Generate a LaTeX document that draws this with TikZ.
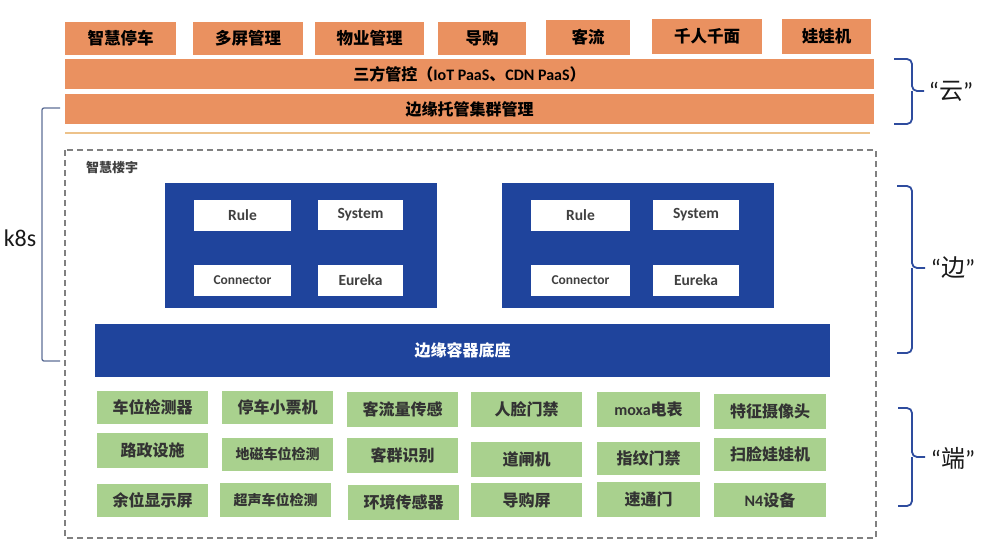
\documentclass[tikz,border=0pt]{standalone}
\usepackage{fontspec}
\setmainfont{Carlito}
\newfontfamily\cjk{Noto Sans CJK SC}
\definecolor{orng}{HTML}{EA9160}
\definecolor{blu}{HTML}{1F449C}
\definecolor{grn}{HTML}{A9D18E}
\definecolor{tan}{HTML}{EDC28A}
\definecolor{brc}{HTML}{2E4C9E}
\definecolor{k8c}{HTML}{5E6F96}
\newcommand\bx[7]{\node[#1,minimum width={#4-#2},minimum height={#5-#3}] (#6) at ({(#2+#4)/2},{(#3+#5)/2}) {#7};}
\newcommand\lat[1]{{\normalfont\bfseries #1}}
\begin{document}
\begin{tikzpicture}[x=1pt,y=-1pt,
  base/.style={inner sep=0pt,outer sep=0pt,draw=none,anchor=center},
  obox/.style={base,fill=orng,text=black,font=\cjk\bfseries\fontsize{16.5}{18}\selectfont},
  obar/.style={base,fill=orng,text=black,font=\cjk\bfseries\fontsize{16}{18}\selectfont},
  bbox/.style={base,fill=blu},
  bbar/.style={base,fill=blu,text=white,font=\cjk\bfseries\fontsize{16}{18}\selectfont},
  wbox/.style={base,fill=white,text=black!75,font=\bfseries\fontsize{15.5}{18}\selectfont},
  wsmall/.style={wbox,font=\bfseries\fontsize{13.5}{16}\selectfont},
  gbox/.style={base,fill=grn,text=black!80,font=\cjk\bfseries\fontsize{16}{18}\selectfont},
  gsmall/.style={gbox,font=\cjk\bfseries\fontsize{14}{16}\selectfont},
  brace/.style={draw=brc,line width=1.8pt,rounded corners=5pt},
  biglabel/.style={inner sep=0pt,text=black!90,font=\fontsize{24}{28}\selectfont},
]
\useasboundingbox (0,0) rectangle (1006,551);
% top row
\bx{obox}{65}{22}{176}{55}{t1}{智慧停车}
\bx{obox}{193}{22}{303}{55}{t2}{多屏管理}
\bx{obox}{315}{22}{424}{55}{t3}{物业管理}
\bx{obox}{438}{22}{526}{55}{t4}{导购}
\bx{obox}{546}{20}{630}{55}{t5}{客流}
\bx{obox}{652}{19}{762}{54}{t6}{千人千面}
\bx{obox}{782}{19}{871}{54}{t7}{娃娃机}
\bx{obar}{65}{59}{874}{89}{bar1}{三方管控（\lat{IoT PaaS}、\lat{CDN PaaS}）}
\bx{obar}{65}{94}{874}{124}{bar2}{边缘托管集群管理}
\coordinate (la) at (65,133);
\coordinate (lb) at (870,133);
\draw[tan,line width=2pt] (la) -- (lb);
% dashed frame
\draw[black!50,line width=1.4pt,dash pattern=on 6pt off 4pt] (65,150) rectangle (876,538);
\node[anchor=west,inner sep=0pt,text=black!75,font=\cjk\bfseries\fontsize{13}{15}\selectfont] (zh) at (86,168) {智慧楼宇};
% blue modules
\bx{bbox}{165}{183}{437}{308}{bl}{}
\bx{wbox}{194}{200}{291}{231}{r1}{Rule}
\bx{wbox}{318}{200}{403}{230}{s1}{System}
\bx{wsmall}{194}{265}{291}{296}{c1}{Connector}
\bx{wbox}{318}{265}{403}{296}{e1}{Eureka}
\bx{bbox}{502}{183}{774}{308}{br}{}
\bx{wbox}{531}{200}{630}{231}{r2}{Rule}
\bx{wbox}{653}{200}{739}{230}{s2}{System}
\bx{wsmall}{531}{265}{630}{296}{c2}{Connector}
\bx{wbox}{653}{265}{739}{296}{e2}{Eureka}
\bx{bbar}{95}{324}{830}{377}{basebar}{边缘容器底座}
% green devices
\bx{gbox}{97}{391}{208}{424}{g11}{车位检测器}
\bx{gbox}{97}{433}{208}{468}{g12}{路政设施}
\bx{gbox}{97}{484}{208}{517}{g13}{余位显示屏}
\bx{gbox}{222}{391}{333}{424}{g21}{停车小票机}
\bx{gsmall}{222}{438}{333}{471}{g22}{地磁车位检测}
\bx{gsmall}{220}{483}{331}{517}{g23}{超声车位检测}
\bx{gbox}{347}{392}{458}{427}{g31}{客流量传感}
\bx{gbox}{347}{438}{458}{473}{g32}{客群识别}
\bx{gbox}{348}{485}{459}{520}{g33}{环境传感器}
\bx{gbox}{471}{392}{582}{427}{g41}{人脸门禁}
\bx{gbox}{471}{442}{582}{477}{g42}{道闸机}
\bx{gbox}{471}{483}{582}{517}{g43}{导购屏}
\bx{gbox}{597}{392}{700}{427}{g51}{\lat{moxa}电表}
\bx{gbox}{597}{442}{700}{475}{g52}{指纹门禁}
\bx{gbox}{597}{482}{700}{517}{g53}{速通门}
\bx{gbox}{714}{394}{826}{429}{g61}{特征摄像头}
\bx{gbox}{714}{438}{826}{471}{g62}{扫脸娃娃机}
\bx{gbox}{714}{483}{826}{517}{g63}{\lat{N4}设备}
% braces
\draw[brace] (894,59) -- (912,59) -- (912,91) -- (924,91);
\draw[brace] (912,91) -- (912,124) -- (894,124);
\node[biglabel] (cloud) at (951,91) {“{\cjk 云}”};
\draw[brace] (897,186) -- (912,186) -- (912,268) -- (925,268);
\draw[brace] (912,268) -- (912,353) -- (897,353);
\node[biglabel] (edge) at (953,268) {“{\cjk 边}”};
\draw[brace] (898,408) -- (912,408) -- (912,457) -- (925,457);
\draw[brace] (912,457) -- (912,506) -- (898,506);
\node[biglabel] (term) at (953,458) {“{\cjk 端}”};
% k8s bracket
\draw[k8c,line width=1.3pt,rounded corners=2pt] (60,108) -- (42,108) -- (42,361) -- (60,361);
\node[biglabel] (k8s) at (20,238) {k8s};
\end{tikzpicture}
\end{document}
